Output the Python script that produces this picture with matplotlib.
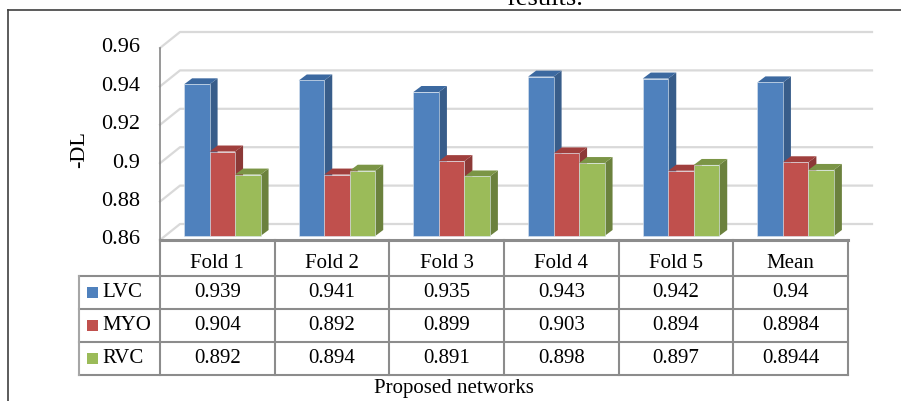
import matplotlib.pyplot as plt
from matplotlib.patches import Polygon, Rectangle
from matplotlib.lines import Line2D

plt.rcParams['font.family'] = ['Liberation Serif', 'DejaVu Serif']

# data
folds = ['Fold 1', 'Fold 2', 'Fold 3', 'Fold 4', 'Fold 5', 'Mean']
series = ['LVC', 'MYO', 'RVC']
lvc = [0.939, 0.941, 0.935, 0.943, 0.942, 0.94]
myo = [0.904, 0.892, 0.899, 0.903, 0.894, 0.8984]
rvc = [0.892, 0.894, 0.891, 0.898, 0.897, 0.8944]
yticks = [0.86, 0.88, 0.9, 0.92, 0.94, 0.96]

# (front, side, top) shades per series
colors = [
    ('#4F81BD', '#385D8A', '#3C69A0'),
    ('#C0504D', '#8C3937', '#A03F3D'),
    ('#9BBB59', '#6B813D', '#7B9546'),
]

W, H = 901, 401
def fx(px):
    return px / W
def fy(py):
    return 1 - py / H

fig = plt.figure(figsize=(W / 100, H / 100), dpi=100)

# chart axes = front plane of the 3d box
ax = fig.add_axes([fx(160), fy(240), (848 - 160) / W, (240 - 48) / H])
ax.set_xlim(0, len(folds))
ax.set_ylim(0.86, 0.96)
ax.axis('off')
ux = len(folds) / (848 - 160)     # data units per pixel
uy = 0.1 / (240 - 48)

# back wall gridlines
bx, by = 20 * ux, 16 * uy
for t in yticks:
    ax.plot([0, bx, len(folds) + 24 * ux], [t, t + by, t + by],
            color='#D9D9D9', lw=1.6, clip_on=False, zorder=1)
    ax.text(-20 * ux, t, f'{t:g}', ha='right', va='center', fontsize=16)
ax.plot([0, 0], [0.86, 0.96], color='#868686', lw=1.2, clip_on=False, zorder=2)
ax.text(-80 * ux, 0.96 - 102 * uy, '-DL', rotation=90, ha='center', va='center', fontsize=16)

# 3d bars
w = 2 / 9
ox, oy = 5 * ux, 4 * uy
dx, dy = 8 * ux, 6 * uy
for i in range(len(folds)):
    for j, vals in enumerate([lvc, myo, rvc]):
        front, side, top = colors[j]
        x0 = i + 1 / 6 + j * w + ox
        y0 = 0.86 + oy
        y1 = vals[i] + oy
        ax.add_patch(Polygon([(x0 + w, y0), (x0 + w + dx, y0 + dy), (x0 + w + dx, y1 + dy), (x0 + w, y1)],
                             closed=True, fc=side, ec='none', clip_on=False, zorder=3))
        ax.add_patch(Polygon([(x0, y1), (x0 + dx, y1 + dy), (x0 + w + dx, y1 + dy), (x0 + w, y1)],
                             closed=True, fc=top, ec='none', clip_on=False, zorder=3))
        ax.add_patch(Rectangle((x0, y0), w, y1 - y0, fc=front, ec='#DCE6F0', lw=0.4,
                               clip_on=False, zorder=3))

# data table
tab = fig.add_axes([fx(79), fy(375), (848 - 79) / W, (375 - 240) / H])
xl = -(160 - 79) * ux
tab.set_xlim(xl, len(folds))
tab.set_ylim(135, 0)
tab.axis('off')
rows = [0, 36, 69, 102, 135]
lc = '#8C8C8C'
tab.plot([0, len(folds)], [0, 0], color=lc, lw=2.2, clip_on=False)
for r in rows[1:]:
    tab.plot([xl, len(folds)], [r, r], color=lc, lw=1.5, clip_on=False)
for c in range(len(folds) + 1):
    tab.plot([c, c], [0, 135], color=lc, lw=1.5, clip_on=False)
tab.plot([xl, xl], [36, 135], color='#A6A6A6', lw=1.5, clip_on=False)

for i, f in enumerate(folds):
    tab.text(i + 0.5, 24, f, ha='center', va='center', fontsize=15)
for j, (name, vals) in enumerate(zip(series, [lvc, myo, rvc])):
    yc = (rows[j + 1] + rows[j + 2]) / 2
    tab.add_patch(Rectangle((xl + 8 * ux, yc - 5.5), 11 * ux, 11, fc=colors[j][0], ec='none'))
    tab.text(xl + 23 * ux, yc, name, ha='left', va='center', fontsize=15)
    for i, v in enumerate(vals):
        tab.text(i + 0.5, yc, str(v), ha='center', va='center', fontsize=15)

fig.text(fx(454), fy(389), 'Proposed networks', ha='center', va='center', fontsize=15)

# page frame and clipped caption (cut off at the top in the original too)
fig.add_artist(Line2D([fx(8), 1], [fy(9.5), fy(9.5)], color='#404040', lw=1.2))
fig.add_artist(Line2D([fx(8), fx(8)], [fy(9.5), 0], color='#404040', lw=1.2))
fig.text(fx(545), fy(5), 'results.', ha='center', va='baseline', fontsize=19)

fig.savefig('out.png', dpi=100)
